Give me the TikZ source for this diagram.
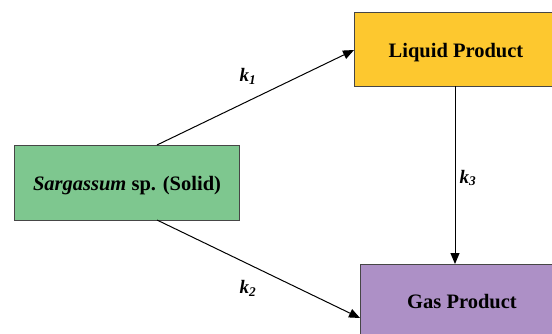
\documentclass[tikz,border=0pt]{standalone}
\usepackage{fontspec}
\setmainfont{Liberation Serif}[BoldFont={Liberation Serif Bold},ItalicFont={Liberation Serif Italic},BoldItalicFont={Liberation Serif Bold Italic}]
\usetikzlibrary{arrows.meta}
\definecolor{solidgreen}{RGB}{126,199,143}
\definecolor{liqyellow}{RGB}{253,200,47}
\definecolor{gaspurple}{RGB}{173,144,198}
\definecolor{edgegray}{RGB}{70,70,70}
\tikzset{
  procbox/.style={draw=edgegray, line width=1pt, inner sep=0pt, font=\rmfamily\fontsize{20.5}{24}\selectfont\bfseries},
  boxtext/.style={inner sep=0pt, text height=13.5pt, text depth=0pt, font=\rmfamily\fontsize{20.5}{24}\selectfont\bfseries},
  flow/.style={line width=1pt, -{Triangle[length=11pt,width=9pt]}},
  rate/.style={font=\rmfamily\fontsize{19}{22}\selectfont\bfseries\itshape}
}
\begin{document}
\begin{tikzpicture}[x=1pt,y=-1pt]
\useasboundingbox (0,0) rectangle (552,333);
\clip (0,0) rectangle (552,333);
\node[procbox, fill=solidgreen, minimum width=225pt, minimum height=75pt] (solid) at (126.5,182.5) {};
\node[procbox, fill=liqyellow, minimum width=203pt, minimum height=74pt] (liquid) at (455.5,49) {};
\node[procbox, fill=gaspurple, minimum width=204pt, minimum height=76pt] (gas) at (462,302) {};
\node[boxtext] (solidtext) at (127,184) {\textit{Sargassum} sp. (Solid)};
\node[boxtext] (liquidtext) at (456,50.3) {Liquid Product};
\node[boxtext] (gastext) at (462,302) {Gas Product};
\coordinate (s1) at (157,145);
\coordinate (s2) at (157,220);
\coordinate (l1) at (354,50);
\coordinate (g1) at (360,318);
\coordinate (l3) at (455,86);
\coordinate (g3) at (455,264);
\draw[flow] (s1) -- (l1);
\draw[flow] (s2) -- (g1);
\draw[flow] (l3) -- (g3);
\node[rate] (k1) at (248,76) {k\textsubscript{1}};
\node[rate] (k2) at (248,288) {k\textsubscript{2}};
\node[rate] (k3) at (468,178) {k\textsubscript{3}};
\end{tikzpicture}
\end{document}
